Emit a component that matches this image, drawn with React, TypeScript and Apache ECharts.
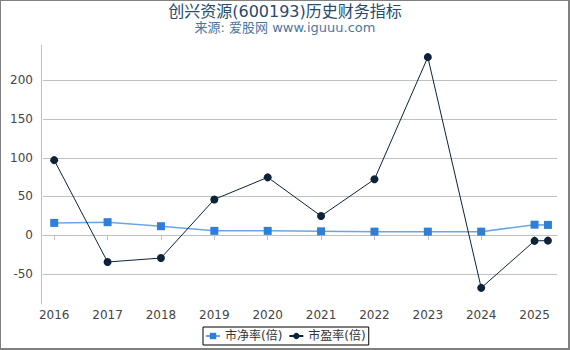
import React, { useEffect, useRef } from "react";
import * as echarts from "echarts";

const titleText = "创兴资源(600193)历史财务指标";
const subtitleText = "来源: 爱股网 www.iguuu.com";
const seriesNames = ["市净率(倍)", "市盈率(倍)"];
const xPositions = [2016, 2017, 2018, 2019, 2020, 2021, 2022, 2023, 2024, 2025, 2025.25];
const pbValues = [15.9, 16.8, 11.6, 5.6, 5.6, 5.0, 4.6, 4.6, 4.6, 13.6, 13.3];
const peValues = [96.9, -34.6, -29.5, 46.2, 74.7, 24.7, 72.2, 229.9, -68.0, -7.3, -7.0];
const xTickLabels = [2016, 2017, 2018, 2019, 2020, 2021, 2022, 2023, 2024, 2025];
const yTickLabels = [-50, 0, 50, 100, 150, 200];

const FONT = "'DejaVu Sans', 'Noto Sans CJK SC', sans-serif";

export default function App() {
  const ref = useRef<HTMLDivElement>(null);
  useEffect(() => {
    document.body.style.margin = "0";
    const chart = echarts.init(ref.current!, null, { renderer: "svg" });
    chart.setOption({
      animation: false,
      backgroundColor: "#ffffff",
      textStyle: { fontFamily: FONT },
      title: {
        text: titleText,
        subtext: subtitleText,
        left: "center",
        top: -2,
        itemGap: 2,
        textStyle: { fontSize: 16, fontWeight: "normal", color: "#274b6d", fontFamily: FONT },
        subtextStyle: { fontSize: 13, color: "#4d759e", fontFamily: FONT },
      },
      legend: {
        left: 203,
        top: 327,
        orient: "horizontal",
        borderColor: "#000",
        borderWidth: 1,
        borderRadius: 0,
        padding: [3, 3, 3, 2],
        itemGap: 6,
        itemWidth: 14,
        itemHeight: 8,
        textStyle: { fontSize: 12, color: "#333", fontFamily: FONT },
        data: seriesNames,
      },
      grid: {
        left: 43,
        right: 13,
        top: 45,
        bottom: 46.5,
        containLabel: false,
        outerBoundsMode: "none",
      },
      xAxis: {
        type: "value",
        min: 2015.79,
        max: 2025.42,
        axisLine: { show: true, lineStyle: { color: "#c0c0c0", width: 1 } },
        axisTick: {
          show: true,
          length: 5,
          lineStyle: { color: "#c0c0c0" },
          customValues: xTickLabels,
        },
        axisLabel: {
          customValues: xTickLabels,
          fontSize: 12,
          color: "#444",
          margin: 5,
          formatter: (v: number) => String(v),
        },
        splitLine: { show: false },
      },
      yAxis: {
        type: "value",
        min: -88.2,
        max: 245.6,
        offset: 2,
        axisLine: { show: true, lineStyle: { color: "#c0c0c0", width: 1 } },
        axisTick: { show: false, customValues: yTickLabels },
        axisLabel: {
          customValues: yTickLabels,
          fontSize: 12,
          color: "#444",
          margin: 8,
        },
        splitLine: { show: true, lineStyle: { color: "#c0c0c0", width: 1 } },
      },
      series: [
        {
          name: seriesNames[0],
          type: "line",
          data: xPositions.map((x, i) => [x, pbValues[i]]),
          symbol: "rect",
          symbolSize: 8,
          itemStyle: { color: "#2f7ed8" },
          lineStyle: { color: "#6aa6e6", width: 1.5 },
          z: 3,
        },
        {
          name: seriesNames[1],
          type: "line",
          data: xPositions.map((x, i) => [x, peValues[i]]),
          symbol: "circle",
          symbolSize: 8,
          itemStyle: { color: "#0d233a" },
          lineStyle: { color: "#0d233a", width: 1 },
          z: 4,
        },
      ],
    });
    return () => chart.dispose();
  }, []);
  return (
    <div style={{ position: "absolute", left: 0, top: 0, width: 570, height: 350 }}>
      <div ref={ref} style={{ position: "absolute", left: 0, top: 0, width: 570, height: 350 }} />
      <div
        style={{
          position: "absolute",
          left: 0,
          top: 0,
          width: 570,
          height: 350,
          boxSizing: "border-box",
          borderTop: "1px solid #808080",
          borderLeft: "1px solid #808080",
          borderRight: "2px solid #808080",
          borderBottom: "2px solid #808080",
          pointerEvents: "none",
        }}
      />
    </div>
  );
}
